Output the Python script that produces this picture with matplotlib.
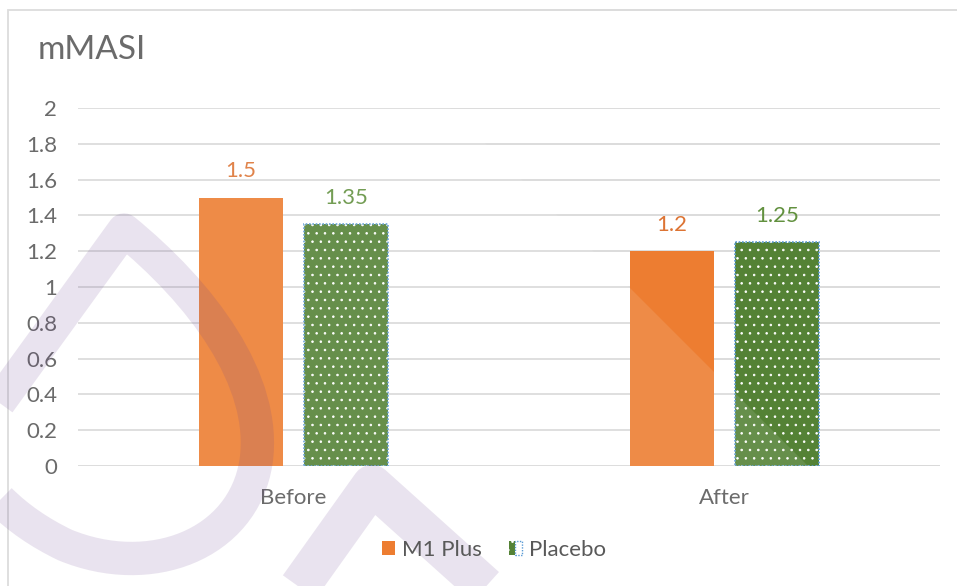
import matplotlib.pyplot as plt
from matplotlib.patches import Patch, Polygon, Rectangle, PathPatch
from matplotlib.path import Path
from matplotlib.legend_handler import HandlerTuple

plt.rcParams['font.family'] = ['Lato', 'DejaVu Sans']

categories = ["Before", "After"]
m1_plus = [1.5, 1.2]
placebo = [1.35, 1.25]
series_names = ["M1 Plus", "Placebo"]
y_ticks = [0, 0.2, 0.4, 0.6, 0.8, 1, 1.2, 1.4, 1.6, 1.8, 2]
y_tick_labels = ["0", "0.2", "0.4", "0.6", "0.8", "1", "1.2", "1.4", "1.6", "1.8", "2"]

orange = "#ED7D31"
green = "#548235"
grey_text = "#595959"
W, H = 957, 586

def px(x, y):
    return (x / W, 1 - y / H)

fig = plt.figure(figsize=(9.57, 5.86), dpi=100)
ax = fig.add_axes([78 / W, 1 - 466 / H, (940 - 78) / W, (466 - 108) / H])

xs = list(range(len(categories)))
bw = 0.193
off = 0.122
plt.rcParams['hatch.linewidth'] = 0.6
ax.bar([x - off for x in xs], m1_plus, width=bw, color=orange, zorder=3)
ax.bar([x + off for x in xs], placebo, width=bw, color=green, edgecolor="white",
       hatch="..", linewidth=0, zorder=3)
ax.bar([x + off for x in xs], placebo, width=bw, fill=False, edgecolor="#5B9BD5",
       linestyle=(0, (1, 1)), linewidth=1.2, zorder=4)

for x, v in zip(xs, m1_plus):
    ax.annotate(f"{v:g}", (x - off, v), xytext=(0, 19), textcoords="offset points",
                ha="center", va="center", fontsize=16, color="#DD7434")
for x, v in zip(xs, placebo):
    ax.annotate(f"{v:g}", (x + off, v), xytext=(0, 19), textcoords="offset points",
                ha="center", va="center", fontsize=16, color="#62913F")

ax.set_xlim(-0.5, 1.5)
ax.set_ylim(0, 2)
ax.set_yticks(y_ticks)
ax.set_yticklabels(y_tick_labels)
ax.set_xticks(xs)
ax.set_xticklabels(categories)
ax.tick_params(axis="both", length=0, labelsize=16, colors=grey_text)
ax.tick_params(axis="y", pad=15)
ax.tick_params(axis="x", pad=16)
ax.yaxis.grid(True, color="#D9D9D9", linewidth=1.3, zorder=0)
ax.set_axisbelow(True)
for s in ax.spines.values():
    s.set_visible(False)
ax.axhline(0, color="#D9D9D9", linewidth=1.3, zorder=1)

fig.text(*px(38, 50), "mMASI", fontsize=24, color=grey_text, va="center", ha="left")

# chart border
fig.add_artist(Rectangle(px(8, 600), (W + 20) / W, (600 - 10) / H, fill=False,
                         edgecolor="#D9D9D9", linewidth=1.3, transform=fig.transFigure))

# legend
h1 = Patch(facecolor=orange, edgecolor="none")
h2a = Patch(facecolor=green, edgecolor="white", hatch="..", linewidth=0)
h2b = Patch(fill=False, edgecolor="#5B9BD5", linestyle=(0, (1, 1)), linewidth=1.0)
fig.legend([h1, (h2a, h2b)], series_names, loc="center", bbox_to_anchor=(0.516, 0.061),
           ncol=2, frameon=False, fontsize=16, handlelength=0.6, handleheight=0.6,
           handletextpad=0.3, columnspacing=1.2, labelcolor=grey_text,
           handler_map={tuple: HandlerTuple(ndivide=None, pad=0)})

# faint watermark overlay
wm = "#663E8E"
wm_alpha = 0.14
fig.add_artist(Polygon([px(342, 0), px(928, 586), px(0, 586), px(0, 0)], closed=True,
                       facecolor="white", alpha=0.11, edgecolor="none",
                       transform=fig.transFigure, zorder=5))
hook = Path([px(-10, 415), px(124, 230),
             px(200, 292), px(268, 380), px(256, 462),
             px(243, 545), px(150, 580), px(65, 545),
             px(40, 533), px(18, 518), px(0, 500)],
            [Path.MOVETO, Path.LINETO,
             Path.CURVE4, Path.CURVE4, Path.CURVE4,
             Path.CURVE4, Path.CURVE4, Path.CURVE4,
             Path.CURVE4, Path.CURVE4, Path.CURVE4])
corner = Path([px(290, 600), px(372, 485), px(500, 600)],
              [Path.MOVETO, Path.LINETO, Path.LINETO])
for p, lw in [(hook, 24), (corner, 29)]:
    fig.add_artist(PathPatch(p, fill=False, edgecolor=wm, alpha=wm_alpha, linewidth=lw,
                             capstyle="butt", joinstyle="round",
                             transform=fig.transFigure, zorder=5))

fig.savefig("out.png", dpi=100, facecolor="white")
